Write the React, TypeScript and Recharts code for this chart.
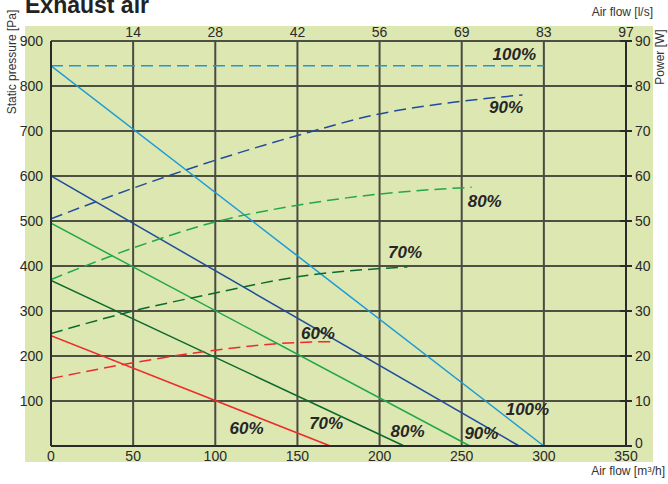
import React from 'react';
import { ComposedChart, Line, XAxis, YAxis, CartesianGrid, ReferenceDot } from 'recharts';

const flowTicks = [0, 50, 100, 150, 200, 250, 300, 350];
const flowLsLabels = ['', '14', '28', '42', '56', '69', '83', '97'];
const pressureTicks = [100, 200, 300, 400, 500, 600, 700, 800, 900];
const powerTicks = [0, 10, 20, 30, 40, 50, 60, 70, 80, 90];

// static pressure [Pa] vs air flow [m3/h]
const pressure100 = [{ flow: 0, pa: 845 }, { flow: 300, pa: 0 }];
const pressure90 = [{ flow: 0, pa: 600 }, { flow: 285, pa: 0 }];
const pressure80 = [{ flow: 0, pa: 495 }, { flow: 255, pa: 0 }];
const pressure70 = [{ flow: 0, pa: 368 }, { flow: 215, pa: 0 }];
const pressure60 = [{ flow: 0, pa: 245 }, { flow: 170, pa: 0 }];

// power [W] vs air flow [m3/h]
const power100 = [{ flow: 0, w: 84.5 }, { flow: 300, w: 84.5 }];
const power90 = [
  { flow: 0, w: 50.5 }, { flow: 50, w: 57.3 }, { flow: 100, w: 63.5 }, { flow: 150, w: 69 },
  { flow: 200, w: 73.8 }, { flow: 250, w: 76.6 }, { flow: 287, w: 78 },
];
const power80 = [
  { flow: 0, w: 37 }, { flow: 50, w: 44 }, { flow: 100, w: 49.8 }, { flow: 150, w: 53.5 },
  { flow: 200, w: 56 }, { flow: 256, w: 57.5 },
];
const power70 = [
  { flow: 0, w: 25 }, { flow: 50, w: 30 }, { flow: 100, w: 34 }, { flow: 150, w: 37.6 }, { flow: 217, w: 39.8 },
];
const power60 = [
  { flow: 0, w: 15 }, { flow: 50, w: 18.5 }, { flow: 100, w: 21.3 }, { flow: 150, w: 23 }, { flow: 171, w: 23.2 },
];

// curve labels, positioned in data units (flow, pressure)
const curveLabels = [
  { flow: 282, pa: 869, text: '100%' },
  { flow: 277, pa: 753, text: '90%' },
  { flow: 264, pa: 544, text: '80%' },
  { flow: 215.5, pa: 429, text: '70%' },
  { flow: 162.5, pa: 249, text: '60%' },
  { flow: 119, pa: 40, text: '60%' },
  { flow: 167.5, pa: 49, text: '70%' },
  { flow: 217, pa: 33, text: '80%' },
  { flow: 262, pa: 27, text: '90%' },
  { flow: 290, pa: 82, text: '100%' },
];

const colors = {
  c100: '#1b9ad7',
  c90: '#1f4c9c',
  c80: '#20a84a',
  c70: '#0b6a2c',
  c60: '#ee2a2a',
};

const font = "'Liberation Sans', Arial, sans-serif";
const tickStyle = { fontSize: 14, fill: '#2a2a2a', fontFamily: font };
const dash = '12 6';

// bottom tick draws the m3/h value and, above the plot, the matching l/s value
const FlowTick = (props: any) => {
  const { x, y, payload } = props;
  const ls = flowLsLabels[flowTicks.indexOf(payload.value)];
  return (
    <g>
      <text x={x} y={y} dy={9} textAnchor="middle" {...tickStyle}>{payload.value}</text>
      <text x={x} y={37} textAnchor="middle" {...tickStyle}>{ls}</text>
    </g>
  );
};

// right axis: tick mark crosses the axis line, label to the right
const PowerTick = (props: any) => {
  const { x, y, payload } = props;
  const ax = x - 9;
  return (
    <g>
      <line x1={ax - 6} x2={ax + 6} y1={y} y2={y} stroke="#2a2a2a" strokeWidth={2} />
      <text x={x} y={y} dy={payload.value === 0 ? 2 : 5} textAnchor="start" {...tickStyle}>{payload.value}</text>
    </g>
  );
};

export default function App() {
  return (
    <div style={{ position: 'absolute', left: 0, top: 0, width: 668, height: 484, background: '#fff', fontFamily: font }}>
      <div style={{ position: 'absolute', left: 25, top: 26, width: 628, height: 436, background: '#dde7b1' }} />
      <div style={{ position: 'absolute', left: 25, top: -8, fontSize: 23, fontWeight: 'bold', color: '#222' }}>Exhaust air</div>
      <div style={{ position: 'absolute', right: 15, top: 5, fontSize: 12, color: '#333' }}>Air flow [l/s]</div>
      <div style={{ position: 'absolute', right: 3, top: 464, fontSize: 12, color: '#333' }}>
        Air flow [m<sup style={{ fontSize: 8, verticalAlign: 'top', lineHeight: '12px' }}>3</sup>/h]
      </div>
      <div
        style={{
          position: 'absolute', left: 12, top: 62, fontSize: 12, color: '#333', whiteSpace: 'nowrap',
          transform: 'translate(-50%, -50%) rotate(-90deg)',
        }}
      >
        Static pressure [Pa]
      </div>
      <div
        style={{
          position: 'absolute', left: 660, top: 57, fontSize: 12, color: '#333', whiteSpace: 'nowrap',
          transform: 'translate(-50%, -50%) rotate(-90deg)',
        }}
      >
        Power [W]
      </div>
      <div style={{ position: 'absolute', left: 0, top: 0 }}>
        <ComposedChart width={668} height={484} margin={{ top: 41, right: 0, bottom: 0, left: 0 }}>
          <CartesianGrid yAxisId="left" vertical={false} stroke="#1e1e1e" strokeWidth={1.5} />
          <CartesianGrid yAxisId="left" horizontal={false} stroke="#4a4a42" strokeWidth={2} />
          <XAxis
            dataKey="flow" type="number" domain={[0, 350]} ticks={flowTicks} height={38}
            tick={<FlowTick />} tickLine={false} axisLine={{ stroke: '#2a2a2a', strokeWidth: 2 }} tickMargin={0}
            allowDataOverflow
          />
          <YAxis
            yAxisId="left" type="number" domain={[0, 900]} ticks={pressureTicks} width={51}
            tick={tickStyle} tickLine={false} axisLine={{ stroke: '#2a2a2a', strokeWidth: 2 }} tickMargin={2}
          />
          <YAxis
            yAxisId="right" orientation="right" type="number" domain={[0, 90]} ticks={powerTicks} width={42}
            tick={<PowerTick />} tickLine={false} tickSize={6} tickMargin={3}
            axisLine={{ stroke: '#2a2a2a', strokeWidth: 2 }}
          />

          <Line yAxisId="left" data={pressure100} dataKey="pa" stroke={colors.c100} strokeWidth={1.5} dot={false} isAnimationActive={false} />
          <Line yAxisId="left" data={pressure90} dataKey="pa" stroke={colors.c90} strokeWidth={1.5} dot={false} isAnimationActive={false} />
          <Line yAxisId="left" data={pressure80} dataKey="pa" stroke={colors.c80} strokeWidth={1.5} dot={false} isAnimationActive={false} />
          <Line yAxisId="left" data={pressure70} dataKey="pa" stroke={colors.c70} strokeWidth={1.5} dot={false} isAnimationActive={false} />
          <Line yAxisId="left" data={pressure60} dataKey="pa" stroke={colors.c60} strokeWidth={1.5} dot={false} isAnimationActive={false} />

          <Line yAxisId="right" data={power100} dataKey="w" type="monotone" stroke={colors.c100} strokeWidth={1.5} strokeDasharray={dash} dot={false} isAnimationActive={false} />
          <Line yAxisId="right" data={power90} dataKey="w" type="monotone" stroke={colors.c90} strokeWidth={1.5} strokeDasharray={dash} dot={false} isAnimationActive={false} />
          <Line yAxisId="right" data={power80} dataKey="w" type="monotone" stroke={colors.c80} strokeWidth={1.5} strokeDasharray={dash} dot={false} isAnimationActive={false} />
          <Line yAxisId="right" data={power70} dataKey="w" type="monotone" stroke={colors.c70} strokeWidth={1.5} strokeDasharray={dash} dot={false} isAnimationActive={false} />
          <Line yAxisId="right" data={power60} dataKey="w" type="monotone" stroke={colors.c60} strokeWidth={1.5} strokeDasharray={dash} dot={false} isAnimationActive={false} />

          {curveLabels.map((l, i) => (
            <ReferenceDot
              key={i}
              yAxisId="left"
              x={l.flow}
              y={l.pa}
              r={0}
              shape={(p: any) => (
                <text
                  x={p.cx}
                  y={p.cy}
                  textAnchor="middle"
                  dominantBaseline="central"
                  fontSize={17}
                  fontWeight="bold"
                  fontStyle="italic"
                  fill="#262626"
                  fontFamily={font}
                >
                  {l.text}
                </text>
              )}
            />
          ))}
        </ComposedChart>
      </div>
    </div>
  );
}
